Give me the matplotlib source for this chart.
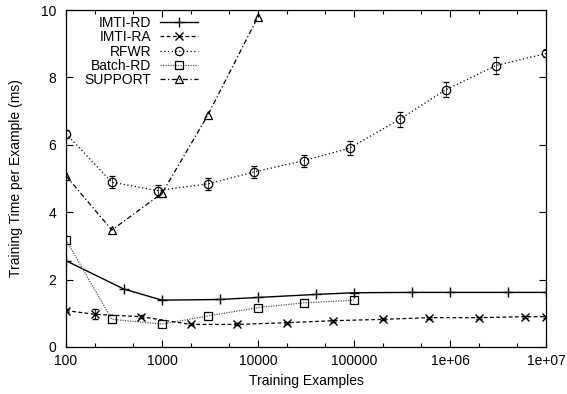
import matplotlib
matplotlib.use("Agg")
from matplotlib import pyplot as plt
from matplotlib.ticker import FixedLocator, FixedFormatter, NullFormatter
from matplotlib.lines import Line2D
import numpy as np

plt.rcParams['font.family'] = ['Liberation Sans', 'DejaVu Sans']

imti_rd_x = [100, 400, 1000, 4000, 10000, 40000, 100000, 400000, 1e6, 4e6, 1e7]
imti_rd_y = [2.56, 1.72, 1.39, 1.41, 1.47, 1.56, 1.61, 1.62, 1.62, 1.62, 1.62]

imti_ra_x = [100, 200, 600, 2000, 6000, 20000, 60000, 200000, 600000, 2e6, 6e6, 1e7]
imti_ra_y = [1.08, 0.97, 0.90, 0.67, 0.67, 0.72, 0.78, 0.82, 0.87, 0.87, 0.90, 0.90]
imti_ra_err = [0.05, 0.15, 0.05, 0.03, 0.03, 0.03, 0.03, 0.03, 0.03, 0.03, 0.03, 0.03]

rfwr_x = [100, 300, 900, 3000, 9000, 30000, 90000, 300000, 900000, 3e6, 1e7]
rfwr_y = [6.33, 4.89, 4.64, 4.84, 5.19, 5.53, 5.90, 6.76, 7.63, 8.35, 8.71]
rfwr_err = [0.12, 0.18, 0.18, 0.18, 0.18, 0.18, 0.2, 0.22, 0.22, 0.25, 0.1]

batch_rd_x = [100, 300, 1000, 3000, 10000, 30000, 100000]
batch_rd_y = [3.18, 0.82, 0.68, 0.92, 1.17, 1.31, 1.39]

support_x = [100, 300, 1000, 3000, 10000]
support_y = [5.08, 3.47, 4.56, 6.88, 9.8]

xtick_vals = [100, 1000, 10000, 100000, 1e6, 1e7]
xtick_labels = ["100", "1000", "10000", "100000", "1e+06", "1e+07"]

fig = plt.figure(figsize=(5.67, 3.94), dpi=100)
ax = fig.add_axes([0.1164, 0.1193, 0.8466, 0.8553])

styles = {
    "IMTI-RD": dict(color='black', lw=1.0, ls='-', marker='+', ms=7, mew=1.0),
    "IMTI-RA": dict(color='black', lw=0.9, ls=(0, (3, 2)), marker='x', ms=6, mew=1.0),
    "RFWR": dict(color='black', lw=0.9, ls=(0, (1, 2)), marker='o', ms=6,
                 mfc='none', mew=0.9),
    "Batch-RD": dict(color='#555555', lw=0.9, ls=(0, (1, 1)), marker='s', ms=6,
                     mfc='none', mec='black', mew=0.9),
    "SUPPORT": dict(color='black', lw=0.9, ls=(0, (4, 2, 1, 2)), marker='^', ms=6,
                    mfc='none', mew=0.9),
}

ax.plot(imti_rd_x, imti_rd_y, **styles["IMTI-RD"])
ax.errorbar(imti_ra_x, imti_ra_y, yerr=imti_ra_err, capsize=2, elinewidth=0.6,
            **styles["IMTI-RA"])
ax.errorbar(rfwr_x, rfwr_y, yerr=rfwr_err, capsize=2, elinewidth=0.5,
            **styles["RFWR"])
ax.plot(batch_rd_x, batch_rd_y, **styles["Batch-RD"])
ax.plot(support_x, support_y, **styles["SUPPORT"])

ax.set_xscale('log')
ax.set_xlim(100, 1e7)
ax.set_ylim(0, 10)
ax.xaxis.set_major_locator(FixedLocator(xtick_vals))
ax.xaxis.set_major_formatter(FixedFormatter(xtick_labels))
minor = [m * d for d in [100, 1000, 10000, 100000, 1e6] for m in (2, 5)]
ax.xaxis.set_minor_locator(FixedLocator(minor))
ax.xaxis.set_minor_formatter(NullFormatter())
ax.set_yticks([0, 2, 4, 6, 8, 10])

ax.tick_params(which='both', direction='in', top=True, right=True, labelsize=10,
               width=0.8)
ax.tick_params(which='major', length=5)
ax.tick_params(which='minor', length=3)
ax.tick_params(axis='x', which='major', pad=5)
ax.tick_params(axis='y', which='major', pad=7)
for s in ax.spines.values():
    s.set_linewidth(0.9)

ax.set_xlabel("Training Examples", fontsize=10)
ax.set_ylabel("Training Time per Example (ms)", fontsize=10)
ax.xaxis.set_label_coords(0.5, -0.080)
ax.yaxis.set_label_coords(-0.09, 0.5)

handles = [Line2D([], [], **st) for st in styles.values()]
ax.legend(handles, list(styles.keys()), loc='upper right', frameon=False,
          markerfirst=False, fontsize=10, handlelength=2.75, handletextpad=0.6,
          labelspacing=0.02, borderaxespad=0.0, borderpad=0.0,
          bbox_to_anchor=(0.275, 0.982))

fig.savefig("out.png", dpi=100)
